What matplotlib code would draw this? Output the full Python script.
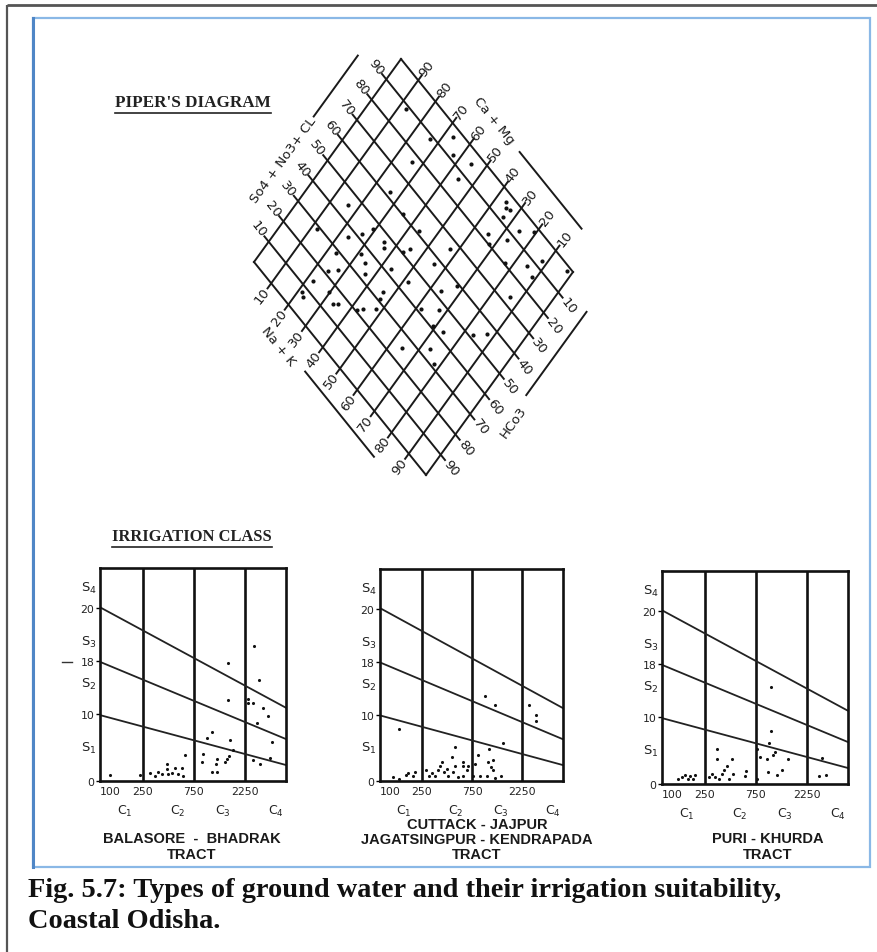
import matplotlib
matplotlib.use("Agg")
import matplotlib.pyplot as plt
from matplotlib.transforms import Affine2D
from matplotlib.patches import Rectangle
from matplotlib.ticker import NullLocator

plt.rcParams['mathtext.default'] = 'regular'
plt.rcParams['font.family'] = ['DejaVu Sans']

# ---------------- data ----------------
piper_ca_mg = [87.5, 73.4, 66.8, 62.8, 55.3, 73.8, 55.8, 73.9, 83.7, 64.9, 36.1, 34.7, 33.1, 33.5,
               25.6, 34.4, 27.5, 20.8, 87.9, 76.6, 73.2, 70.8, 64.7, 56.3, 63.2, 56.4, 55.1, 42.8,
               31.9, 76.9, 69.1, 65.8, 75.3, 72.5, 63.3, 56.5, 44.4, 22.8, 15.4, 12.1, 11.5, 2.0,
               77.9, 78.7, 77.2, 66.4, 64.8, 70.2, 57.7, 56.1, 52.2, 53.8, 53.2, 48.2, 36.4, 32.6,
               38.5, 32.6, 30.9, 26.4, 16.8, 12.5, 13.7, 35.6, 26.7, 22.2]
piper_so4_cl = [88.5, 88.6, 96.3, 91.7, 95.1, 76.6, 87.3, 62.0, 45.1, 60.5, 96.7, 95.0, 95.9, 91.8,
                93.5, 82.6, 87.1, 97.8, 28.9, 36.7, 41.9, 46.9, 47.1, 61.3, 45.4, 50.5, 53.5, 66.4,
                80.4, 28.7, 36.4, 35.4, 21.6, 25.1, 32.6, 42.2, 57.4, 80.5, 86.9, 92.9, 85.3, 98.5,
                14.0, 7.5, 6.5, 14.6, 16.2, 16.3, 20.8, 22.9, 27.0, 33.9, 30.9, 44.4, 52.6, 59.0,
                41.4, 47.2, 41.1, 42.6, 51.4, 56.3, 73.2, 25.1, 34.0, 31.4]
piper_edge_values = [10, 20, 30, 40, 50, 60, 70, 80, 90]
piper_titles = ["So4 + No3+ CL", "Ca + Mg", "Na + K", "HCo3"]

cond_ticks = [100, 250, 750, 2250]
cond_tick_labels = ["100", "250", "750", "2250"]
class_labels = ["C$_1$", "C$_2$", "C$_3$", "C$_4$"]
sar_ticks = [0, 10, 18, 26]
sar_tick_labels = ["0", "10", "18", "20"]
s_labels = ["S$_1$", "S$_2$", "S$_3$", "S$_4$"]
s_label_sar = [5.1, 14.6, 20.9, 29.1]
hazard_cond = [100, 5500]
hazard_sar = [[9.9, 2.4], [17.9, 6.3], [26.1, 11.0]]

balasore_cond = [124, 235, 293, 327, 351, 377, 420, 435, 468, 503, 542, 582, 604, 420, 626,
                 910, 925, 995, 1110, 1110, 1215, 1235, 1255, 1480, 1555, 1625, 1645, 1585,
                 1565, 1770, 2450, 2730, 2770, 3060, 2975, 3340, 3720, 3910, 2730, 3160, 4060, 2450]
balasore_sar = [0.9, 0.9, 1.2, 0.8, 1.4, 1.0, 1.8, 1.0, 1.2, 1.9, 1.0, 1.9, 0.7, 2.6, 3.9,
                2.8, 4.1, 6.4, 7.3, 1.3, 2.6, 3.3, 1.4, 2.8, 3.3, 3.7, 6.2, 12.1,
                17.7, 4.6, 11.7, 11.7, 20.3, 15.1, 8.7, 10.9, 9.7, 3.4, 3.1, 2.5, 5.8, 12.3]

cuttack_cond = [134, 153, 178, 186, 208, 215, 150, 275, 290, 312, 335, 353, 374, 388, 408, 432,
                448, 482, 500, 518, 518, 557, 612, 621, 621, 668, 693, 772, 801, 862, 893,
                996, 1033, 1072, 1095, 1126, 1177, 1194, 1237, 1237, 1430, 1465, 2610, 3020, 3060]
cuttack_sar = [0.55, 0.3, 0.9, 1.2, 0.7, 1.4, 7.9, 1.6, 0.8, 1.2, 0.8, 1.7, 2.3, 2.8, 1.3, 1.8,
               0.7, 3.6, 1.3, 5.2, 2.3, 0.55, 2.8, 2.3, 0.8, 1.6, 2.3, 0.8, 2.6, 3.9, 0.8,
               12.9, 0.8, 2.9, 4.9, 2.1, 1.6, 3.2, 11.4, 0.4, 0.8, 5.8, 11.4, 10.0, 9.0]

puri_cond = [140, 153, 164, 174, 183, 194, 204, 273, 294, 315, 327, 327, 338, 364, 383, 405,
             420, 451, 461, 599, 612, 768, 768, 826, 953, 974, 1008, 1037, 1037, 1100, 1140,
             1180, 1315, 1519, 2945, 3400, 3165]
puri_sar = [0.75, 1.0, 1.35, 0.75, 1.25, 0.75, 1.35, 1.0, 1.5, 1.0, 5.2, 3.8, 0.75, 1.5, 2.15, 2.75,
            0.75, 3.75, 1.5, 1.25, 2.0, 0.75, 5.2, 4.0, 3.75, 1.75, 6.2, 14.5, 8.0, 4.35, 4.75,
            1.35, 2.15, 3.75, 1.15, 1.35, 3.85]

tract_names = [["BALASORE  -  BHADRAK", "TRACT"],
               ["CUTTACK - JAJPUR", "JAGATSINGPUR - KENDRAPADA", "TRACT"],
               ["PURI - KHURDA", "TRACT"]]
caption_lines = ["Fig. 5.7: Types of ground water and their irrigation suitability,",
                 "Coastal Odisha."]

# ---------------- figure ----------------
W, H = 878, 953
fig = plt.figure(figsize=(W / 100, H / 100), dpi=100)
fig.patch.set_facecolor("white")
base = fig.add_axes([0, 0, 1, 1])
base.set_xlim(0, W)
base.set_ylim(H, 0)
base.axis("off")
renderer = fig.canvas.get_renderer()
PX = 0.72  # points per pixel


def fit_width(t, width_px):
    w = t.get_window_extent(renderer).width
    t.set_fontsize(t.get_fontsize() * width_px / w)


def underline(t, dy, lw=1.2):
    bb = t.get_window_extent(renderer)
    inv = base.transData.inverted()
    (x0, y0), (x1, y1) = inv.transform([(bb.x0, bb.y0), (bb.x1, bb.y1)])
    base.plot([x0, x1], [y0 + dy, y0 + dy], color="#222", lw=lw)


# page frames
base.plot([7, W], [6, 6], color="#555555", lw=2.0, solid_capstyle="butt")
base.plot([7, 7], [6, H], color="#555555", lw=1.6, solid_capstyle="butt")
base.add_patch(Rectangle((33, 19), 837, 849, fill=False, ec="#8ab8e6", lw=1.6))
base.plot([33, 33], [19, 868], color="#4f86c6", lw=2.2)

# ---------------- Piper diamond ----------------
T = (401.0, 60.0)
R = (573.0, 273.0)
L = (254.0, 263.0)
B = (R[0] + L[0] - T[0], R[1] + L[1] - T[1])
aff = Affine2D.from_values(-(R[0] - T[0]) / 100, -(R[1] - T[1]) / 100,
                           -(L[0] - T[0]) / 100, -(L[1] - T[1]) / 100, B[0], B[1])
tr = aff + base.transData
gcol = "#1a1a1a"
for v in range(0, 101, 10):
    ext = 0 if v in (0, 100) else 2.5
    base.plot([v, v], [-ext, 100 + ext], color=gcol, lw=1.4, transform=tr)
    base.plot([-ext, 100 + ext], [v, v], color=gcol, lw=1.4, transform=tr)
base.scatter(piper_ca_mg, piper_so4_cl, s=9, color="#111", lw=0, transform=tr, zorder=3)

lab_kw = dict(fontsize=9.5, color="#1a1a1a", ha="center", va="center", rotation_mode="anchor")
off = 6.0
for v in piper_edge_values:
    base.text(100 + off, v, str(v), rotation=-52, transform=tr, **lab_kw)        # SO4+Cl
    base.text(v, 100 + off, str(v), rotation=52, transform=tr, **lab_kw)         # Ca+Mg
    base.text(100 - v, -off, str(v), rotation=52, transform=tr, **lab_kw)        # Na+K
    base.text(-off, 100 - v, str(v), rotation=-52, transform=tr, **lab_kw)       # HCO3

tkw = dict(fontsize=9.5, color="#1a1a1a", ha="center", va="center", rotation_mode="anchor")
base.text(114, 36, piper_titles[0], rotation=54, transform=tr, **tkw)
base.plot([114, 114], [57, 87], color=gcol, lw=1.4, transform=tr)
base.text(58, 114, piper_titles[1], rotation=-51, transform=tr, **tkw)
base.plot([7, 43], [114, 114], color=gcol, lw=1.4, transform=tr)
base.text(74, -14, piper_titles[2], rotation=-51, transform=tr, **tkw)
base.plot([20, 60], [-12, -12], color=gcol, lw=1.4, transform=tr)
base.text(-15, 42, piper_titles[3], rotation=54, transform=tr, **tkw)
base.plot([-13, -13], [53, 94], color=gcol, lw=1.4, transform=tr)

# section titles
t1 = base.text(115, 103, "PIPER'S DIAGRAM", fontsize=10, fontweight="bold",
               family="Liberation Serif", va="center", ha="left", color="#222")
fit_width(t1, 155)
underline(t1, 2.5)
t2 = base.text(112, 537, "IRRIGATION CLASS", fontsize=10, fontweight="bold",
               family="Liberation Serif", va="center", ha="left", color="#222")
fit_width(t2, 160)
underline(t2, 2.5)


# ---------------- irrigation diagrams ----------------
def irrigation(box, cond, sar):
    x0, y0, x1, y1 = box
    ax = fig.add_axes([x0 / W, 1 - y1 / H, (x1 - x0) / W, (y1 - y0) / H])
    ax.patch.set_alpha(0)
    ax.set_xscale("log")
    ax.set_xlim(hazard_cond[0], hazard_cond[1])
    ax.set_ylim(0, 32)
    for c in cond_ticks[1:]:
        ax.axvline(c, color="#111", lw=1.9)
    for ys in hazard_sar:
        ax.plot(hazard_cond, ys, color="#222", lw=1.3)
    ax.scatter(cond, sar, s=5, color="#111", lw=0, zorder=3)
    for sp in ax.spines.values():
        sp.set_linewidth(1.9)
        sp.set_color("#111")
    ax.xaxis.set_minor_locator(NullLocator())
    ax.set_xticks(cond_ticks)
    ax.set_xticklabels(cond_tick_labels, fontsize=7.8, color="#222")
    ax.get_xticklabels()[0].set_horizontalalignment("left")
    ax.tick_params(axis="x", length=0, pad=3.5)
    ax.set_yticks(sar_ticks)
    ax.set_yticklabels(sar_tick_labels, fontsize=7.8, color="#222")
    ax.tick_params(axis="y", length=3, width=1, pad=1)
    for lab, yv in zip(s_labels, s_label_sar):
        ax.annotate(lab, xy=(0, yv), xycoords=("axes fraction", "data"),
                    xytext=(-11 * PX, 0), textcoords="offset points",
                    ha="center", va="center", fontsize=9.5, color="#222")
    for lab, cpos in zip(class_labels, [170, 530, 1400, 4400]):
        ax.annotate(lab, xy=(cpos, 0), xycoords=("data", "axes fraction"),
                    xytext=(0, -29 * PX), textcoords="offset points",
                    ha="center", va="center", fontsize=9, color="#222")
    return ax


irrigation((100, 569, 286, 782), balasore_cond, balasore_sar)
irrigation((380, 570, 563, 782), cuttack_cond, cuttack_sar)
irrigation((662, 572, 848, 785), puri_cond, puri_sar)
base.plot([62, 72], [663, 663], color="#333", lw=1)

# tract names
nkw = dict(fontweight="bold", family="Liberation Sans", ha="center", va="center",
           color="#1a1a1a", fontsize=10.5)
base.text(192, 839, tract_names[0][0], **nkw)
base.text(192, 855, tract_names[0][1], **nkw)
base.text(477, 825, tract_names[1][0], **nkw)
base.text(477, 840, tract_names[1][1], **nkw)
base.text(477, 855, tract_names[1][2], **nkw)
base.text(768, 839, tract_names[2][0], **nkw)
base.text(768, 855, tract_names[2][1], **nkw)

# caption
c1 = base.text(28, 897, caption_lines[0], fontsize=16, fontweight="bold",
               family="Liberation Serif", ha="left", va="baseline", color="#111")
fit_width(c1, 757)
base.text(28, 928, caption_lines[1], fontsize=c1.get_fontsize(), fontweight="bold",
          family="Liberation Serif", ha="left", va="baseline", color="#111")

fig.savefig("out.png", dpi=100, facecolor="white")
